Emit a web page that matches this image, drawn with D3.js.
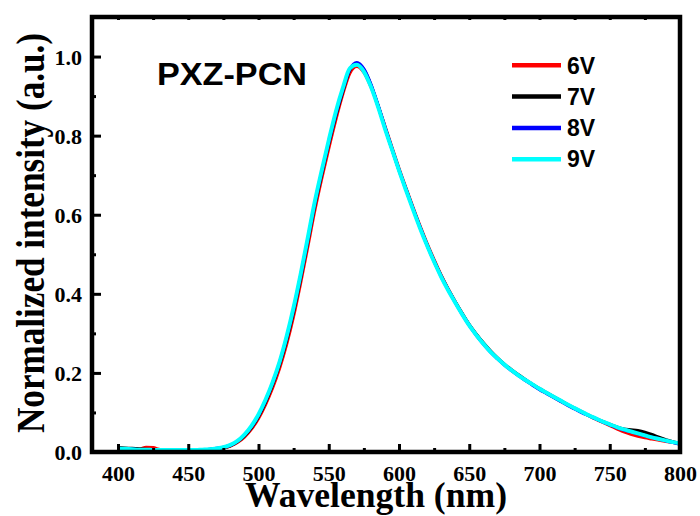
<!DOCTYPE html>
<html>
<head>
<meta charset="utf-8">
<script src="https://cdn.jsdelivr.net/npm/d3@7"></script>
<style>
  html, body { margin: 0; padding: 0; background: #fff; }
  svg { display: block; }
</style>
</head>
<body>
<svg id="chart" width="700" height="516"></svg>
<script>
// Wavelength grid (nm)
const wavelength = [
  400,405,410,415,420,425,430,435,440,445,450,455,460,465,470,475,480,485,490,495,
  500,505,510,515,520,525,530,535,540,545,550,555,560,565,570,575,580,585,590,595,
  600,605,610,615,620,625,630,635,640,645,650,655,660,665,670,675,680,685,690,695,
  700,705,710,715,720,725,730,735,740,745,750,755,760,765,770,775,780,785,790,795,800
];

// Normalized EL intensity at each drive voltage
const v6 = [
  0.009,0.008,0.007,0.007,0.012,0.011,0.006,0.005,0.005,0.005,0.005,0.005,0.005,0.006,0.008,0.010,0.015,0.024,0.038,0.058,
  0.085,0.120,0.162,0.212,0.272,0.344,0.428,0.518,0.610,0.692,0.768,0.840,0.905,0.958,0.975,0.960,0.924,0.877,0.824,0.770,
  0.717,0.667,0.618,0.571,0.527,0.486,0.447,0.412,0.380,0.350,0.321,0.297,0.275,0.255,0.237,0.221,0.207,0.194,0.182,0.170,
  0.159,0.149,0.139,0.129,0.119,0.110,0.101,0.092,0.083,0.075,0.067,0.059,0.051,0.045,0.040,0.036,0.033,0.030,0.027,0.024,0.021
];
const v7 = [
  0.011,0.010,0.009,0.008,0.007,0.006,0.005,0.005,0.005,0.005,0.005,0.005,0.005,0.006,0.008,0.011,0.016,0.026,0.041,0.062,
  0.090,0.126,0.170,0.221,0.283,0.356,0.440,0.531,0.623,0.703,0.780,0.850,0.912,0.966,0.982,0.966,0.928,0.876,0.820,0.766,
  0.713,0.664,0.615,0.568,0.524,0.483,0.445,0.411,0.380,0.350,0.322,0.298,0.276,0.256,0.238,0.222,0.208,0.195,0.183,0.171,
  0.160,0.150,0.140,0.130,0.120,0.111,0.102,0.093,0.085,0.077,0.070,0.063,0.058,0.056,0.054,0.050,0.044,0.037,0.031,0.026,0.022
];
const v8 = [
  0.009,0.008,0.007,0.006,0.006,0.005,0.005,0.005,0.005,0.005,0.005,0.005,0.006,0.007,0.009,0.012,0.017,0.027,0.043,0.064,
  0.093,0.130,0.174,0.226,0.289,0.362,0.446,0.536,0.628,0.708,0.784,0.854,0.916,0.968,0.985,0.969,0.930,0.878,0.822,0.767,
  0.714,0.664,0.615,0.568,0.523,0.482,0.444,0.410,0.378,0.348,0.320,0.295,0.273,0.253,0.236,0.220,0.206,0.193,0.181,0.169,
  0.158,0.148,0.138,0.128,0.118,0.109,0.100,0.092,0.084,0.076,0.069,0.062,0.056,0.051,0.046,0.041,0.037,0.033,0.028,0.024,0.020
];
const v9 = [
  0.009,0.008,0.007,0.006,0.006,0.005,0.005,0.005,0.005,0.005,0.005,0.005,0.006,0.007,0.009,0.012,0.018,0.028,0.044,0.066,
  0.095,0.132,0.176,0.228,0.292,0.366,0.450,0.540,0.632,0.712,0.788,0.860,0.920,0.970,0.979,0.962,0.924,0.874,0.818,0.765,
  0.712,0.662,0.613,0.566,0.522,0.481,0.443,0.409,0.378,0.348,0.320,0.296,0.274,0.254,0.237,0.221,0.207,0.194,0.182,0.171,
  0.160,0.150,0.140,0.130,0.120,0.111,0.102,0.093,0.085,0.077,0.070,0.063,0.057,0.052,0.047,0.042,0.037,0.033,0.029,0.025,0.022
];

const seriesNames = ["6V", "7V", "8V", "9V"];
const seriesColors = ["#ff0000", "#000000", "#0000ff", "#00ffff"];
const seriesValues = [v6, v7, v8, v9];

const xTicks = [400, 450, 500, 550, 600, 650, 700, 750, 800];
const xMinorTicks = [425, 475, 525, 575, 625, 675, 725, 775];
const yTicks = [0.0, 0.2, 0.4, 0.6, 0.8, 1.0];
const yMinorTicks = [0.1, 0.3, 0.5, 0.7, 0.9];

const plotL = 92, plotR = 680, plotT = 17, plotB = 452;

const svg = d3.select("#chart");
const x = d3.scaleLinear().domain([381.5, 800]).range([plotL, plotR]);
const y = d3.scaleLinear().domain([0, 1.1]).range([plotB, plotT]);

const serif = "'Liberation Serif', 'Times New Roman', serif";
const sans = "'Liberation Sans', Arial, sans-serif";

// clip for the spectra
svg.append("clipPath").attr("id", "plotClip")
  .append("rect").attr("x", plotL).attr("y", plotT)
  .attr("width", plotR - plotL).attr("height", plotB - plotT);

// spectra
const line = d3.line()
  .x((d, i) => x(wavelength[i]))
  .y(d => y(d))
  .curve(d3.curveMonotoneX);

const curves = svg.append("g").attr("clip-path", "url(#plotClip)");
seriesValues.forEach((vals, k) => {
  curves.append("path")
    .datum(vals)
    .attr("d", line)
    .attr("fill", "none")
    .attr("stroke", seriesColors[k])
    .attr("stroke-width", k === 3 ? 4 : 3.2)
    .attr("stroke-linejoin", "round");
});

// axes with inward ticks
function styleAxis(g) {
  g.select(".domain").remove();
  g.selectAll(".tick line").attr("stroke", "#000").attr("stroke-width", 3);
}

const xAxis = svg.append("g")
  .attr("transform", `translate(0,${plotB})`)
  .call(d3.axisBottom(x).tickValues(xTicks).tickSize(-8).tickPadding(0).tickFormat(d3.format("d")))
  .call(styleAxis);
xAxis.selectAll(".tick text")
  .attr("y", 29).attr("dy", null)
  .attr("font-family", serif).attr("font-weight", "bold").attr("font-size", 22).attr("fill", "#000");

svg.append("g")
  .attr("transform", `translate(0,${plotB})`)
  .call(d3.axisBottom(x).tickValues(xMinorTicks).tickSize(-4).tickFormat(""))
  .call(styleAxis);

svg.append("g")
  .attr("transform", `translate(0,${plotT})`)
  .call(d3.axisTop(x).tickValues(xTicks.concat(xMinorTicks)).tickSize(-3).tickFormat(""))
  .call(styleAxis);

const yAxis = svg.append("g")
  .attr("transform", `translate(${plotL},0)`)
  .call(d3.axisLeft(y).tickValues(yTicks).tickSize(-9).tickPadding(0).tickFormat(d3.format(".1f")))
  .call(styleAxis);
yAxis.selectAll(".tick text")
  .attr("x", -10).attr("dy", "0.34em")
  .attr("font-family", serif).attr("font-weight", "bold").attr("font-size", 22).attr("fill", "#000");

svg.append("g")
  .attr("transform", `translate(${plotL},0)`)
  .call(d3.axisLeft(y).tickValues(yMinorTicks).tickSize(-4).tickFormat(""))
  .call(styleAxis);

// frame
svg.append("rect")
  .attr("x", plotL).attr("y", plotT)
  .attr("width", plotR - plotL).attr("height", plotB - plotT)
  .attr("fill", "none").attr("stroke", "#000").attr("stroke-width", 4.5);

// axis titles
svg.append("text")
  .attr("x", 376).attr("y", 507)
  .attr("text-anchor", "middle")
  .attr("font-family", serif).attr("font-weight", "bold").attr("font-size", 36)
  .attr("textLength", 262).attr("lengthAdjust", "spacingAndGlyphs")
  .text("Wavelength (nm)");

svg.append("text")
  .attr("transform", "translate(44,233) rotate(-90)")
  .attr("text-anchor", "middle")
  .attr("font-family", serif).attr("font-weight", "bold").attr("font-size", 40)
  .attr("textLength", 400).attr("lengthAdjust", "spacingAndGlyphs")
  .text("Normalized intensity (a.u.)");

// sample name
svg.append("text")
  .attr("x", 157).attr("y", 85)
  .attr("font-family", sans).attr("font-weight", "bold").attr("font-size", 31)
  .attr("textLength", 150).attr("lengthAdjust", "spacingAndGlyphs")
  .text("PXZ-PCN");

// legend
const legend = svg.append("g");
seriesNames.forEach((name, k) => {
  const ly = 65.3 + k * 31.3;
  legend.append("line")
    .attr("x1", 512).attr("x2", 561).attr("y1", ly).attr("y2", ly)
    .attr("stroke", seriesColors[k]).attr("stroke-width", 4.5);
  legend.append("text")
    .attr("x", 567).attr("y", ly + 8.2)
    .attr("font-family", sans).attr("font-weight", "bold").attr("font-size", 23)
    .text(name);
});
</script>
</body>
</html>
